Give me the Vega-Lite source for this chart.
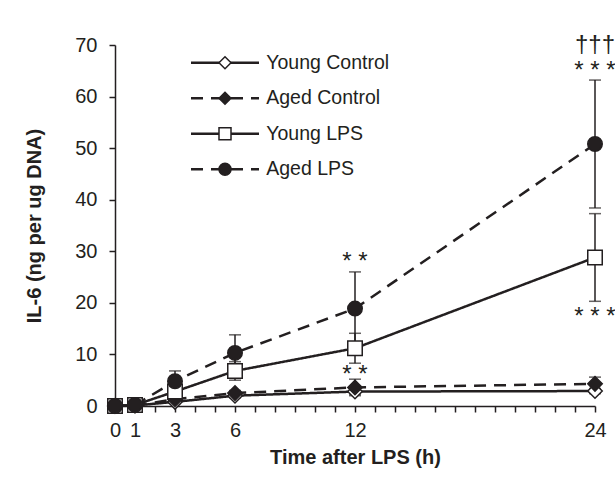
{
  "$schema": "https://vega.github.io/schema/vega-lite/v6.json",
  "width": 480,
  "height": 361,
  "autosize": {"type": "none"},
  "padding": {"left": 115, "top": 45, "right": 20, "bottom": 80},
  "background": "white",
  "config": {
    "view": {"stroke": null},
    "font": "Liberation Sans",
    "axis": {"grid": false},
    "legend": {"symbolStrokeColor": "#231f20"}
  },
  "data": {
    "values": [
      {"series": "Young Control", "time": 0, "mean": 0, "lo": 0, "hi": 0},
      {"series": "Young Control", "time": 1, "mean": 0.1, "lo": 0.1, "hi": 0.1},
      {"series": "Young Control", "time": 3, "mean": 0.8, "lo": 0.5, "hi": 1.1},
      {"series": "Young Control", "time": 6, "mean": 2.0, "lo": 1.6, "hi": 2.4},
      {"series": "Young Control", "time": 12, "mean": 2.8, "lo": 2.3, "hi": 3.3},
      {"series": "Young Control", "time": 24, "mean": 2.9, "lo": 2.4, "hi": 3.4},
      {"series": "Aged Control", "time": 0, "mean": 0, "lo": 0, "hi": 0},
      {"series": "Aged Control", "time": 1, "mean": 0.1, "lo": 0.1, "hi": 0.1},
      {"series": "Aged Control", "time": 3, "mean": 1.3, "lo": 1.0, "hi": 1.6},
      {"series": "Aged Control", "time": 6, "mean": 2.5, "lo": 2.0, "hi": 3.0},
      {"series": "Aged Control", "time": 12, "mean": 3.6, "lo": 2.0, "hi": 5.2},
      {"series": "Aged Control", "time": 24, "mean": 4.3, "lo": 3.0, "hi": 5.6},
      {"series": "Young LPS", "time": 0, "mean": 0, "lo": 0, "hi": 0},
      {"series": "Young LPS", "time": 1, "mean": 0.2, "lo": 0.2, "hi": 0.2},
      {"series": "Young LPS", "time": 3, "mean": 2.8, "lo": 1.8, "hi": 3.8},
      {"series": "Young LPS", "time": 6, "mean": 6.8, "lo": 5.0, "hi": 8.6},
      {"series": "Young LPS", "time": 12, "mean": 11.2, "lo": 8.3, "hi": 14.1},
      {"series": "Young LPS", "time": 24, "mean": 28.8, "lo": 20.3, "hi": 37.3},
      {"series": "Aged LPS", "time": 0, "mean": 0, "lo": 0, "hi": 0},
      {"series": "Aged LPS", "time": 1, "mean": 0.2, "lo": 0.2, "hi": 0.2},
      {"series": "Aged LPS", "time": 3, "mean": 4.8, "lo": 2.8, "hi": 6.8},
      {"series": "Aged LPS", "time": 6, "mean": 10.3, "lo": 6.8, "hi": 13.8},
      {"series": "Aged LPS", "time": 12, "mean": 18.9, "lo": 11.8, "hi": 26.0},
      {"series": "Aged LPS", "time": 24, "mean": 50.8, "lo": 38.4, "hi": 63.2}
    ]
  },
  "encoding": {
    "x": {
      "field": "time",
      "type": "quantitative",
      "title": "Time after LPS (h)",
      "scale": {"domain": [0, 24], "nice": false, "zero": false},
      "axis": {
        "values": [0,1,2,3,4,5,6,7,8,9,10,11,12,13,14,15,16,17,18,19,20,21,22,23,24],
        "labelExpr": "indexof([0,1,3,6,12,24], datum.value) >= 0 ? datum.label : ''",
        "labelFlush": false,
        "labelOverlap": false,
        "tickSize": 6,
        "tickWidth": 1.5,
        "tickColor": "#231f20",
        "domainColor": "#231f20",
        "domainWidth": 1.5,
        "labelFont": "Liberation Sans",
        "labelFontSize": 20,
        "labelColor": "#231f20",
        "labelPadding": 8,
        "titleFont": "Liberation Sans",
        "titleFontSize": 20,
        "titleFontWeight": "bold",
        "titleColor": "#231f20",
        "titlePadding": 7
      }
    }
  },
  "layer": [
    {
      "mark": {"type": "line", "strokeWidth": 2.5, "color": "#231f20"},
      "encoding": {
        "y": {
          "field": "mean",
          "type": "quantitative",
          "title": "IL-6 (ng per ug DNA)",
          "scale": {"domain": [0, 70], "nice": false},
          "axis": {
            "values": [0, 10, 20, 30, 40, 50, 60, 70],
            "tickSize": 6,
            "tickWidth": 1.5,
            "tickColor": "#231f20",
            "domainColor": "#231f20",
            "domainWidth": 1.5,
            "labelFont": "Liberation Sans",
            "labelFontSize": 20,
            "labelColor": "#231f20",
            "labelPadding": 12,
            "titleFont": "Liberation Sans",
            "titleFontSize": 20,
            "titleFontWeight": "bold",
            "titleColor": "#231f20",
            "titlePadding": 30
          }
        },
        "strokeDash": {
          "field": "series",
          "type": "nominal",
          "sort": ["Young Control", "Aged Control", "Young LPS", "Aged LPS"],
          "scale": {"range": [[1, 0], [12, 8], [1, 0], [12, 8]]},
          "legend": {
            "orient": "none",
            "legendX": 100.25,
            "legendY": 8,
            "title": null,
            "padding": 0,
            "symbolType": "M-6.8,0H6.8",
            "symbolSize": 100,
            "symbolStrokeWidth": 2.5,
            "symbolStrokeColor": "#231f20",
            "symbolOffset": 0,
            "labelOffset": 31.5,
            "labelFont": "Liberation Sans",
            "labelFontSize": 19.5,
            "labelColor": "#231f20",
            "rowPadding": 14.5
          }
        }
      }
    },
    {
      "mark": {"type": "errorbar", "ticks": {"size": 12}, "thickness": 1.5, "color": "#231f20"},
      "encoding": {
        "y": {"field": "lo", "type": "quantitative", "title": "IL-6 (ng per ug DNA)", "scale": {"domain": [0, 70], "nice": false}},
        "y2": {"field": "hi"},
        "detail": {"field": "series", "type": "nominal"}
      }
    },
    {
      "mark": {"type": "point", "filled": true, "size": 210, "strokeWidth": 1.5, "opacity": 1},
      "encoding": {
        "y": {"field": "mean", "type": "quantitative", "title": "IL-6 (ng per ug DNA)", "scale": {"domain": [0, 70], "nice": false}},
        "shape": {
          "field": "series",
          "type": "nominal",
          "scale": {
            "domain": ["Young Control", "Aged Control", "Young LPS", "Aged LPS"],
            "range": ["diamond", "diamond", "square", "circle"]
          },
          "legend": {
            "orient": "none",
            "legendX": 100.25,
            "legendY": 8,
            "title": null,
            "padding": 0,
            "symbolSize": 144,
            "symbolStrokeWidth": 1.5,
            "symbolOffset": 0,
            "labelOffset": 31.5,
            "labelFont": "Liberation Sans",
            "labelFontSize": 19.5,
            "labelOpacity": 0,
            "rowPadding": 14.5
          }
        },
        "fill": {
          "field": "series",
          "type": "nominal",
          "scale": {
            "domain": ["Young Control", "Aged Control", "Young LPS", "Aged LPS"],
            "range": ["white", "#231f20", "white", "#231f20"]
          },
          "legend": {
            "orient": "none",
            "legendX": 100.25,
            "legendY": 8,
            "title": null,
            "padding": 0,
            "symbolSize": 144,
            "symbolStrokeWidth": 1.5,
            "symbolOffset": 0,
            "labelOffset": 31.5,
            "labelFont": "Liberation Sans",
            "labelFontSize": 19.5,
            "labelOpacity": 0,
            "rowPadding": 14.5
          }
        },
        "stroke": {
          "field": "series",
          "type": "nominal",
          "scale": {
            "domain": ["Young Control", "Aged Control", "Young LPS", "Aged LPS"],
            "range": ["#231f20", "#231f20", "#231f20", "#231f20"]
          },
          "legend": {
            "orient": "none",
            "legendX": 100.25,
            "legendY": 8,
            "title": null,
            "padding": 0,
            "symbolSize": 144,
            "symbolStrokeWidth": 1.5,
            "symbolOffset": 0,
            "labelOffset": 31.5,
            "labelFont": "Liberation Sans",
            "labelFontSize": 19.5,
            "labelOpacity": 0,
            "rowPadding": 14.5
          }
        }
      }
    },
    {
      "data": {
        "values": [
          {"time": 12, "value": 26.6, "label": "* *"},
          {"time": 12, "value": 4.6, "label": "* *"},
          {"time": 24, "value": 15.9, "label": "* * *"},
          {"time": 24, "value": 63.6, "label": "* * *"},
          {"time": 24, "value": 68.7, "label": "†††"}
        ]
      },
      "mark": {"type": "text", "fontSize": 24, "align": "center", "baseline": "alphabetic", "color": "#231f20", "font": "Liberation Sans"},
      "encoding": {
        "y": {"field": "value", "type": "quantitative", "title": "IL-6 (ng per ug DNA)", "scale": {"domain": [0, 70], "nice": false}},
        "text": {"field": "label", "type": "nominal"},
        "size": {"value": 24}
      }
    }
  ]
}
